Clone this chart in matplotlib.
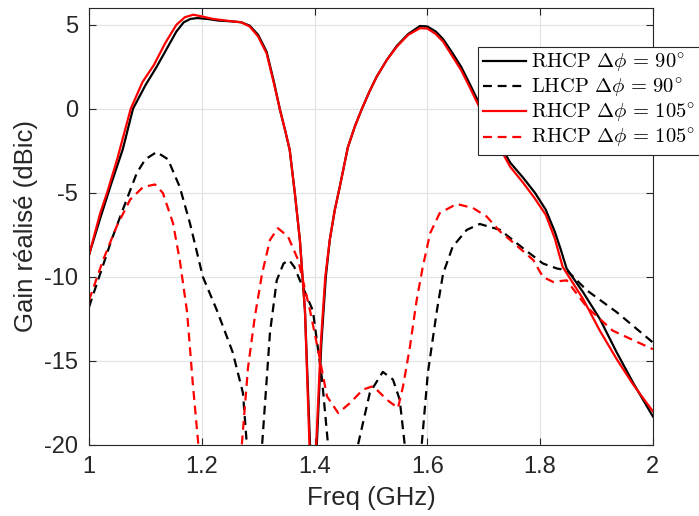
import matplotlib.pyplot as plt
from matplotlib.ticker import FuncFormatter

# RHCP, delta phi = 90 deg (black solid)
f_rhcp90 = [1.000, 1.020, 1.040, 1.060, 1.078, 1.100, 1.120, 1.140, 1.155, 1.168,
            1.180, 1.192, 1.210, 1.230, 1.255, 1.270, 1.285, 1.300, 1.315, 1.328,
            1.339, 1.348, 1.356, 1.365, 1.374, 1.383, 1.392, 1.397, 1.404, 1.412,
            1.420, 1.427, 1.436, 1.445, 1.459, 1.472, 1.484, 1.497, 1.510, 1.528,
            1.546, 1.566, 1.587, 1.600, 1.615, 1.628, 1.645, 1.660, 1.675, 1.688,
            1.705, 1.720, 1.747, 1.770, 1.791, 1.810, 1.826, 1.836, 1.847, 1.876,
            1.906, 1.936, 1.965, 2.000]
g_rhcp90 = [-8.7, -6.5, -4.4, -2.4, 0.0, 1.4, 2.5, 3.7, 4.6, 5.15,
            5.35, 5.4, 5.35, 5.25, 5.2, 5.15, 4.95, 4.4, 3.4, 1.6,
            -0.1, -1.3, -2.45, -5.0, -7.8, -12.0, -20.0, -30.0, -20.0, -14.0,
            -10.0, -7.8, -6.0, -4.6, -2.3, -1.0, 0.0, 1.0, 1.9, 2.9,
            3.75, 4.45, 4.93, 4.9, 4.6, 4.15, 3.3, 2.5, 1.5, 0.6,
            -0.6, -1.6, -3.2, -4.1, -5.0, -6.0, -7.3, -8.3, -9.5, -10.9,
            -12.5, -14.5, -16.3, -18.3]

# LHCP, delta phi = 90 deg (black dashed)
f_lhcp90 = [1.000, 1.020, 1.040, 1.060, 1.085, 1.100, 1.120, 1.140, 1.161, 1.179,
            1.202, 1.227, 1.245, 1.255, 1.273, 1.280, 1.293, 1.307, 1.321, 1.333,
            1.345, 1.355, 1.364, 1.374, 1.397, 1.413, 1.424, 1.450, 1.477, 1.498,
            1.521, 1.539, 1.551, 1.560, 1.575, 1.590, 1.601, 1.617, 1.628, 1.645,
            1.670, 1.693, 1.729, 1.770, 1.805, 1.830, 1.847, 1.883, 1.936, 2.000]
g_lhcp90 = [-11.8, -9.8, -7.8, -6.0, -3.8, -3.0, -2.57, -3.0, -4.65, -6.8,
            -10.0, -12.0, -13.6, -14.5, -16.9, -20.0, -28.0, -20.0, -13.3, -10.2,
            -9.2, -9.0, -9.4, -10.2, -12.0, -16.0, -20.0, -28.0, -20.0, -16.9,
            -15.65, -16.1, -17.3, -20.0, -28.0, -20.0, -15.7, -12.0, -9.8, -8.2,
            -7.2, -6.85, -7.2, -8.3, -9.2, -9.5, -9.6, -10.8, -12.1, -13.9]

# RHCP, delta phi = 105 deg (red solid)
f_rhcp105 = [1.000, 1.020, 1.032, 1.050, 1.074, 1.095, 1.115, 1.135, 1.155, 1.170,
             1.185, 1.200, 1.220, 1.255, 1.270, 1.285, 1.300, 1.315, 1.328, 1.339,
             1.348, 1.356, 1.365, 1.374, 1.383, 1.391, 1.397, 1.403, 1.411, 1.419,
             1.427, 1.436, 1.445, 1.459, 1.472, 1.484, 1.497, 1.510, 1.528, 1.546,
             1.566, 1.587, 1.600, 1.615, 1.628, 1.645, 1.660, 1.675, 1.688, 1.705,
             1.720, 1.747, 1.770, 1.790, 1.810, 1.826, 1.840, 1.876, 1.906, 1.936,
             1.965, 2.000]
g_rhcp105 = [-8.7, -6.2, -5.0, -3.0, 0.0, 1.6, 2.6, 3.9, 5.0, 5.45,
             5.6, 5.5, 5.35, 5.2, 5.15, 4.9, 4.3, 3.3, 1.5, -0.1,
             -1.3, -2.45, -5.0, -7.8, -12.0, -20.0, -30.0, -20.0, -14.0, -10.0,
             -7.8, -6.0, -4.6, -2.3, -1.0, 0.0, 1.0, 1.9, 2.9, 3.7,
             4.4, 4.8, 4.78, 4.45, 4.0, 3.1, 2.3, 1.3, 0.4, -0.8,
             -1.8, -3.45, -4.4, -5.3, -6.3, -7.7, -9.4, -11.3, -13.2, -14.9,
             -16.4, -18.0]

# second red dashed curve (legend says RHCP 105 deg)
f_lhcp105 = [1.000, 1.025, 1.049, 1.073, 1.096, 1.117, 1.131, 1.149, 1.161, 1.174,
             1.184, 1.194, 1.230, 1.271, 1.282, 1.294, 1.307, 1.321, 1.335, 1.353,
             1.371, 1.392, 1.406, 1.422, 1.442, 1.463, 1.486, 1.504, 1.528, 1.548,
             1.557, 1.569, 1.581, 1.592, 1.605, 1.622, 1.652, 1.681, 1.705, 1.729,
             1.747, 1.788, 1.805, 1.823, 1.847, 1.883, 1.929, 2.000]
g_lhcp105 = [-11.4, -9.0, -7.0, -5.4, -4.65, -4.5, -5.0, -6.8, -9.0, -12.1,
             -16.3, -20.0, -30.0, -20.0, -15.4, -12.4, -9.8, -7.8, -7.1, -7.6,
             -9.0, -12.0, -14.3, -17.1, -18.1, -17.5, -16.7, -16.5, -17.3, -17.8,
             -16.5, -14.2, -11.4, -9.4, -7.4, -6.2, -5.66, -5.9, -6.4, -7.3,
             -7.8, -9.0, -10.0, -10.3, -10.2, -11.8, -13.2, -14.3]

labels = [r'$\mathrm{RHCP}\ \Delta\phi\,=\,90^{\circ}$',
          r'$\mathrm{LHCP}\ \Delta\phi\,=\,90^{\circ}$',
          r'$\mathrm{RHCP}\ \Delta\phi\,=\,105^{\circ}$',
          r'$\mathrm{RHCP}\ \Delta\phi\,=\,105^{\circ}$']

plt.rcParams['font.family'] = ['Liberation Sans', 'DejaVu Sans']
plt.rcParams['mathtext.fontset'] = 'cm'

fig = plt.figure(figsize=(6.99, 5.16), dpi=100)
ax = fig.add_axes([0.1273, 0.1376, 0.8067, 0.8469])

ax.plot(f_rhcp90, g_rhcp90, color='black', lw=1.6, label=labels[0])
ax.plot(f_lhcp90, g_lhcp90, color='black', lw=1.6, ls='--', dashes=(4, 2.6), label=labels[1])
ax.plot(f_rhcp105, g_rhcp105, color='red', lw=1.6, label=labels[2])
ax.plot(f_lhcp105, g_lhcp105, color='red', lw=1.6, ls='--', dashes=(4, 2.6), label=labels[3])

ax.set_xlim(1, 2)
ax.set_ylim(-20, 6)
ax.set_xticks([1, 1.2, 1.4, 1.6, 1.8, 2])
ax.set_yticks([-20, -15, -10, -5, 0, 5])
ax.xaxis.set_major_formatter(FuncFormatter(lambda v, p: ('%g' % v)))
ax.yaxis.set_major_formatter(FuncFormatter(lambda v, p: ('%g' % v)))
ax.grid(True, color='#e3e3e3', lw=0.9)
ax.set_axisbelow(True)
for s in ax.spines.values():
    s.set_color('#262626')
    s.set_linewidth(0.8)
ax.tick_params(direction='in', top=True, right=True, length=5, width=0.8,
               colors='#262626', labelsize=17, pad=8)
ax.set_xlabel('Freq (GHz)', fontsize=18.5, color='#262626', labelpad=6)
ax.set_ylabel('Gain réalisé (dBic)', fontsize=18.5, color='#262626', labelpad=4)

leg = fig.legend(loc='upper left', bbox_to_anchor=(478 / 699, 1 - 47 / 516),
                 borderaxespad=0, fontsize=14.8, handlelength=2.1, handletextpad=0.28,
                 labelspacing=0.1, borderpad=0.22, fancybox=False, framealpha=1)
leg.get_frame().set_edgecolor('#262626')
leg.get_frame().set_linewidth(0.8)

plt.savefig('out.png', dpi=100)
